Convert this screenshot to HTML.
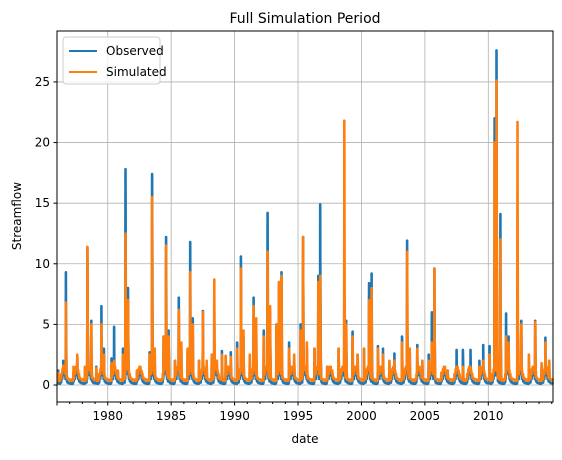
<!DOCTYPE html>
<html><head><meta charset="utf-8"><style>
body{margin:0;background:#fff;font-family:"Liberation Sans","DejaVu Sans",sans-serif;}
</style></head><body>
<svg id="chart" width="562" height="455" xmlns="http://www.w3.org/2000/svg" font-family="DejaVu Sans, Liberation Sans, sans-serif">
<rect width="562" height="455" fill="#fff"/>
<text x="305" y="23" font-size="14" text-anchor="middle">Full Simulation Period</text>
<text x="305" y="443" font-size="12" text-anchor="middle">date</text>
<text x="21" y="216" font-size="12" text-anchor="middle" transform="rotate(-90 21 216)">Streamflow</text>
<g id="grid"></g>
<g id="series"></g>
<rect x="57" y="31" width="496" height="371" fill="none" stroke="#000" stroke-width="1"/>
<g id="ticks"></g>
<g>
<rect x="63" y="37" width="97" height="47" rx="3" fill="#fff" fill-opacity="0.8" stroke="#ccc"/>
<line x1="69" y1="51" x2="97" y2="51" stroke="#1f77b4" stroke-width="2"/>
<text x="106" y="55" font-size="12">Observed</text>
<line x1="69" y1="72" x2="97" y2="72" stroke="#ff7f0e" stroke-width="2"/>
<text x="106" y="76" font-size="12">Simulated</text>
</g>
</svg>
<script>
const eventDates=[1976.1,1976.5,1976.7,1977.3,1977.6,1978.2,1978.4,1978.7,1979.1,1979.5,1979.7,1980.3,1980.5,1980.8,1981.2,1981.4,1981.6,1982.3,1982.7,1983.3,1983.5,1983.7,1984.4,1984.6,1984.8,1985.3,1985.6,1985.8,1986.3,1986.5,1986.7,1987.2,1987.5,1987.8,1988.2,1988.4,1988.6,1989.0,1989.3,1989.7,1990.2,1990.5,1990.7,1991.2,1991.5,1991.7,1992.3,1992.6,1992.8,1993.3,1993.5,1993.7,1994.3,1994.7,1995.2,1995.4,1995.7,1996.3,1996.6,1996.75,1997.3,1997.7,1998.2,1998.65,1998.8,1999.3,1999.7,2000.2,2000.6,2000.8,2001.3,2001.7,2002.2,2002.6,2003.2,2003.6,2003.8,2004.4,2004.8,2005.3,2005.55,2005.75,2006.3,2006.8,2007.5,2008.0,2008.6,2009.3,2009.6,2010.1,2010.5,2010.65,2010.95,2011.4,2011.6,2012.3,2012.6,2013.2,2013.7,2014.2,2014.5,2014.8];
const observed=[1.2,2.0,9.3,1.0,2.2,1.3,11.3,5.3,1.5,6.5,3.0,2.2,4.8,1.0,3.0,17.8,8.0,1.0,0.8,2.7,17.4,3.0,4.0,12.2,4.5,2.0,7.2,3.0,3.0,11.8,5.5,2.0,6.1,1.5,2.5,4.8,2.0,2.8,2.4,2.7,3.5,10.6,4.0,2.0,7.2,5.0,4.5,14.2,6.0,5.0,8.5,9.3,3.5,2.0,5.0,12.2,3.0,3.0,9.0,14.9,1.5,1.0,3.0,4.5,5.3,4.4,2.5,3.0,8.4,9.2,3.2,3.0,1.8,2.6,4.0,11.9,3.0,3.3,2.0,2.5,6.0,9.6,1.0,1.2,2.9,2.9,2.9,2.0,3.3,3.2,22.0,27.6,14.1,5.9,4.0,4.6,5.3,2.0,5.3,1.5,3.9,2.0];
const simulated=[1.0,1.6,6.8,1.5,2.5,1.5,11.4,5.0,1.4,5.0,2.5,1.8,2.0,1.2,2.5,12.5,7.0,1.2,1.0,2.5,15.5,3.0,4.0,11.5,4.0,2.0,6.2,3.5,3.0,9.3,5.0,2.0,6.0,2.0,2.5,8.7,2.0,2.5,2.4,2.3,3.0,9.6,4.5,2.5,6.5,5.5,4.0,11.0,6.5,5.0,8.5,9.0,3.0,2.5,4.5,12.2,3.5,3.0,8.5,9.0,1.5,1.2,3.0,21.8,5.0,4.0,2.5,3.0,7.0,8.0,3.0,2.5,2.0,2.0,3.5,11.0,3.0,3.0,2.0,2.0,3.5,9.6,1.0,1.2,1.5,1.5,1.5,1.5,2.0,2.5,20.0,25.1,12.0,4.0,3.5,21.7,5.0,2.5,5.2,1.8,3.5,2.0];
const obsMonthly=[0.15,0.1,0.1,0.2,0.5,0.9,1.1,0.8,0.5,0.3,0.2,0.15];
const simMonthly=[0.45,0.35,0.35,0.5,0.9,1.3,1.5,1.2,0.9,0.6,0.5,0.45];
const yTicks=[0,5,10,15,20,25];
const xMajor=[1980,1985,1990,1995,2000,2005,2010];

const NS="http://www.w3.org/2000/svg";
const X0=57,X1=553,Y0=31,Y1=402;
const tMin=1976.0,tMax=2015.1;
const yMin=-1.4,yMax=29.2;
const xs=t=>X0+(t-tMin)/(tMax-tMin)*(X1-X0);
const ys=v=>Y1-(v-yMin)/(yMax-yMin)*(Y1-Y0);
function mk(tag,attrs,parent){const e=document.createElementNS(NS,tag);for(const k in attrs)e.setAttribute(k,attrs[k]);parent.appendChild(e);return e;}
const grid=document.getElementById('grid'),ticks=document.getElementById('ticks'),series=document.getElementById('series');

yTicks.forEach(v=>{
  const y=ys(v);
  const g=mk('line',{x1:X0,x2:X1,y1:y,y2:y,stroke:'#b0b0b0','stroke-width':0.8},grid);
  
  
  mk('line',{x1:X0-3.5,x2:X0,y1:y,y2:y,stroke:'#000'},ticks);
  const t=mk('text',{x:X0-7,y:y+4,'font-size':12,'text-anchor':'end'},ticks);
  t.textContent=v;
  
  
});
xMajor.forEach(v=>{
  const x=xs(v);
  const g=mk('line',{x1:x,x2:x,y1:Y0,y2:Y1,stroke:'#b0b0b0','stroke-width':0.8},grid);
  
  
  const t=mk('text',{x:x,y:Y1+18,'font-size':12,'text-anchor':'middle'},ticks);
  t.textContent=v;
  
  
});
for(let yr=1976;yr<=2015;yr++){
  const x=xs(yr);
  const major=xMajor.includes(yr)||yr===1976;
  mk('line',{x1:x,x2:x,y1:Y1,y2:Y1+(major?3.5:2),stroke:'#000'},ticks);
}

function build(vals,monthly){
  const step=1/104;
  const pts=[];
  for(let t=tMin;t<=tMax;t+=step){
    const m=Math.floor(((t%1)+1)%1*12);
    let v=monthly[m];
    for(let i=0;i<eventDates.length;i++){
      const d=t-eventDates[i];
      let c=0;
      if(d>=-0.02&&d<=0) c=vals[i]*(1+d/0.02);
      else if(d>0&&d<0.25) c=vals[i]*Math.exp(-d/0.025);
      if(c>v) v=c;
    }
    pts.push([t,v]);
  }
  eventDates.forEach((t,i)=>pts.push([t,vals[i]]));
  pts.sort((a,b)=>a[0]-b[0]);
  return pts.map(p=>xs(p[0]).toFixed(1)+','+ys(p[1]).toFixed(1)).join(' ');
}
const po=mk('polyline',{points:build(observed,obsMonthly),fill:'none',stroke:'#1f77b4','stroke-width':2.6,'stroke-linejoin':'round'},series);


const psim=mk('polyline',{points:build(simulated,simMonthly),fill:'none',stroke:'#ff7f0e','stroke-width':2.6,'stroke-linejoin':'round'},series);


</script>
</body></html>
